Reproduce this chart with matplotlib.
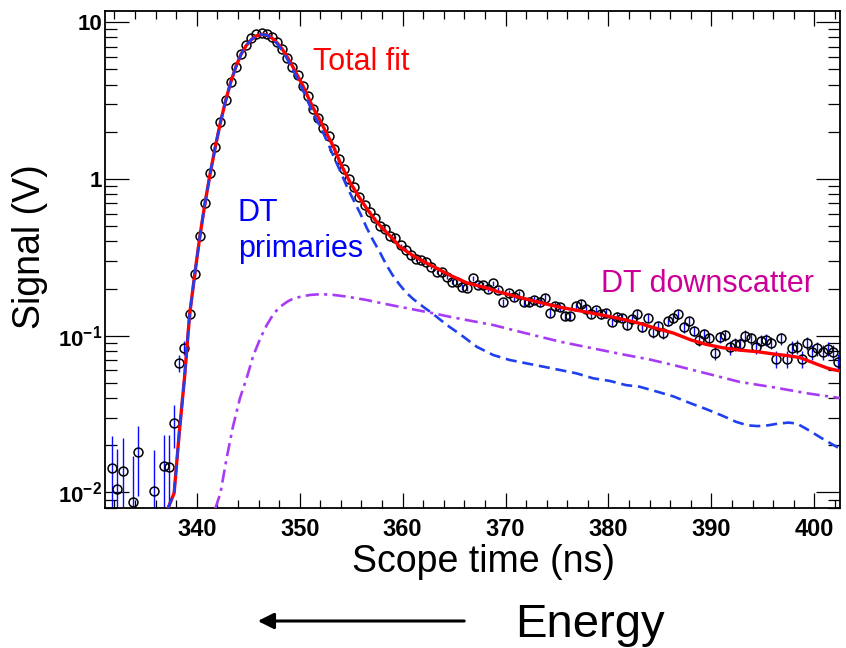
"""Neutron time-of-flight scope trace with the DT primary and downscatter fit components."""

import matplotlib

matplotlib.use("Agg")
import matplotlib.pyplot as plt
import numpy as np
from matplotlib.ticker import FixedLocator, FuncFormatter, LogLocator, MultipleLocator, NullFormatter

# scope samples every 0.5 ns starting at 331.8 ns; nan where the sample was <= 0
SAMPLE_START = 331.8
SAMPLE_STEP = 0.5
signal = [
    0.0143, 0.0105, 0.0138, np.nan, 0.0087, 0.018, np.nan, np.nan, 0.0102, np.nan,
    0.0148, 0.0146, 0.0277, 0.067, 0.084, 0.138, 0.247, 0.433, 0.70, 1.09,
    1.60, 2.30, 3.19, 4.16, 5.21, 6.30, 7.15, 7.95, 8.40, 8.55,
    8.40, 8.00, 7.45, 6.75, 5.90, 5.20, 4.60, 3.92, 3.40, 2.80,
    2.46, 2.11, 1.88, 1.55, 1.345, 1.16, 1.00, 0.885, 0.768, 0.682,
    0.618, 0.561, 0.501, 0.477, 0.433, 0.422, 0.379, 0.352, 0.325, 0.309,
    0.302, 0.297, 0.276, 0.256, 0.256, 0.238, 0.221, 0.219, 0.2055, 0.202,
    0.232, 0.211, 0.211, 0.198, 0.216, 0.196, 0.163, 0.187, 0.176, 0.185,
    0.164, 0.163, 0.170, 0.163, 0.175, 0.140, 0.155, 0.152, 0.134, 0.133,
    0.154, 0.160, 0.149, 0.138, 0.145, 0.137, 0.139, 0.123, 0.1325, 0.130,
    0.117, 0.128, 0.137, 0.114, 0.130, 0.105, 0.115, 0.1036, 0.124, 0.129,
    0.137, 0.113, 0.1235, 0.1076, 0.094, 0.1026, 0.0962, 0.078, 0.0977, 0.101,
    0.0843, 0.0885, 0.0885, 0.0995, 0.0962, 0.0851, 0.0929, 0.094, 0.0902, 0.071,
    0.0962, 0.071, 0.0838, 0.0851, 0.071, 0.0894, 0.0783, 0.083, 0.0783, 0.0825,
    0.079, 0.0683,
]
signal_err = 0.0085

total_time = [
    337.2, 337.8, 338.3, 338.8, 339.3, 339.8, 340.3, 340.8, 341.3, 341.8,
    342.3, 342.8, 343.3, 343.8, 344.3, 344.8, 345.3, 345.8, 346.3, 346.8,
    347.3, 347.8, 348.3, 348.8, 349.3, 349.8, 350.3, 350.8, 351.3, 352.0,
    352.8, 353.3, 354.0, 354.9, 355.7, 356.5, 357.3, 358.1, 359.0, 359.7,
    361.0, 362.0, 363.0, 364.5, 366.2, 368.0, 369.4, 371.0, 372.5, 374.0,
    375.5, 377.0, 378.5, 380.0, 381.7, 383.0, 384.5, 386.3, 388.0, 389.5,
    391.0, 392.7, 394.5, 396.0, 397.5, 398.6, 400.2, 401.3, 402.5,
]
total_fit = [
    0.0079, 0.0099, 0.024, 0.053, 0.135, 0.245, 0.43, 0.70, 1.08, 1.6,
    2.3, 3.15, 4.15, 5.2, 6.25, 7.1, 7.75, 8.2, 8.38, 8.3,
    7.95, 7.4, 6.75, 6.0, 5.25, 4.55, 3.95, 3.35, 2.85, 2.35,
    1.85, 1.6, 1.24, 0.95, 0.78, 0.65, 0.55, 0.48, 0.42, 0.37,
    0.325, 0.298, 0.276, 0.245, 0.218, 0.203, 0.19, 0.178, 0.168, 0.159,
    0.151, 0.145, 0.139, 0.133, 0.126, 0.120, 0.112, 0.104, 0.094, 0.088,
    0.084, 0.081, 0.079, 0.0765, 0.0745, 0.0725, 0.066, 0.062, 0.0595,
]

primary_time = [
    337.2, 337.8, 338.3, 338.8, 339.3, 339.8, 340.3, 340.8, 341.3, 341.8,
    342.3, 342.8, 343.3, 343.8, 344.3, 344.8, 345.3, 345.8, 346.3, 346.8,
    347.3, 347.8, 348.3, 348.8, 349.3, 349.8, 350.3, 350.8, 351.3, 352.0,
    352.7, 353.3, 354.0, 354.6, 355.2, 355.9, 356.5, 357.1, 357.8, 358.4,
    359.0, 359.7, 360.3, 361.0, 362.0, 363.0, 364.3, 365.6, 367.2, 368.8,
    370.4, 372.0, 373.7, 375.3, 376.9, 378.5, 380.1, 381.7, 383.0, 384.7,
    386.3, 388.0, 389.5, 391.0, 392.4, 393.5, 394.5, 395.5, 396.5, 397.5,
    398.3, 399.2, 400.0, 401.0, 402.5,
]
primary_fit = [
    0.0079, 0.0099, 0.024, 0.053, 0.135, 0.245, 0.43, 0.70, 1.08, 1.6,
    2.3, 3.15, 4.15, 5.2, 6.25, 7.1, 7.75, 8.2, 8.38, 8.28,
    7.9, 7.3, 6.6, 5.8, 5.05, 4.35, 3.7, 3.12, 2.62, 2.16,
    1.72, 1.39, 1.1, 0.89, 0.74, 0.6, 0.49, 0.41, 0.34, 0.285,
    0.245, 0.212, 0.19, 0.172, 0.153, 0.137, 0.117, 0.102, 0.085, 0.0753,
    0.070, 0.0667, 0.0634, 0.0604, 0.0575, 0.0535, 0.0515, 0.0484, 0.0473, 0.044,
    0.041, 0.037, 0.034, 0.031, 0.0282, 0.0268, 0.0265, 0.0268, 0.0275, 0.0279,
    0.0275, 0.0255, 0.0237, 0.0216, 0.019,
]

scatter_time = [
    341.8, 342.3, 342.9, 343.5, 344.2, 344.9, 345.5, 346.2, 346.8, 347.5,
    348.1, 348.8, 349.4, 350.2, 351.0, 352.0, 353.0, 354.5, 356.5, 358.0,
    359.7, 361.3, 363.0, 364.6, 366.2, 368.8, 372.0, 375.3, 378.5, 381.7,
    384.0, 386.3, 389.5, 392.7, 396.0, 399.3, 402.5,
]
scatter_fit = [
    0.0079, 0.0099, 0.0165, 0.026, 0.040, 0.055, 0.075, 0.097, 0.117, 0.139,
    0.153, 0.165, 0.173, 0.178, 0.182, 0.184, 0.183, 0.178, 0.169, 0.161,
    0.153, 0.146, 0.139, 0.132, 0.126, 0.117, 0.1036, 0.0916, 0.083, 0.0753,
    0.0705, 0.065, 0.0575, 0.0508, 0.0469, 0.0429, 0.040,
]

Y_TICKS = [0.01, 0.1, 1, 10]
Y_TICK_LABELS = [r"$\mathbf{10^{-2}}$", r"$\mathbf{10^{-1}}$", "1", "10"]


def main() -> None:
    plt.rcParams["font.family"] = ["Liberation Sans", "DejaVu Sans"]
    plt.rcParams["mathtext.fontset"] = "custom"
    plt.rcParams["mathtext.rm"] = "Liberation Sans"
    plt.rcParams["mathtext.bf"] = "Liberation Sans:bold"

    fig = plt.figure(figsize=(8.46, 6.48), dpi=100)
    ax = fig.add_axes([0.1238, 0.2156, 0.8692, 0.7679])

    t = SAMPLE_START + SAMPLE_STEP * np.arange(len(signal))
    y = np.array(signal)

    ax.errorbar(t, y, yerr=signal_err, fmt="none", ecolor="#0a0aff", elinewidth=1.0, zorder=2)
    ax.plot(t, y, linestyle="none", marker="o", markersize=6.4, markerfacecolor="none",
            markeredgecolor="black", markeredgewidth=1.1, zorder=3)

    ax.plot(total_time, total_fit, color="#ff0000", linewidth=2.4, zorder=4)
    ax.plot(primary_time, primary_fit, color="#2040f0", linewidth=1.9, linestyle=(0, (4.2, 2.2)), zorder=5)
    ax.plot(scatter_time, scatter_fit, color="#a83cf5", linewidth=1.9,
            linestyle=(0, (5.0, 2.0, 1.2, 2.0)), zorder=5)

    ax.set_yscale("log")
    ax.set_xlim(331.06, 402.5)
    ax.set_ylim(0.00792, 11.86)

    ax.xaxis.set_major_locator(MultipleLocator(10))
    ax.xaxis.set_minor_locator(MultipleLocator(2))
    ax.yaxis.set_major_locator(FixedLocator(Y_TICKS))
    ax.yaxis.set_major_formatter(FuncFormatter(lambda v, pos: Y_TICK_LABELS[Y_TICKS.index(v)] if v in Y_TICKS else ""))
    ax.yaxis.set_minor_locator(LogLocator(base=10, subs=np.arange(2, 10), numticks=20))
    ax.yaxis.set_minor_formatter(NullFormatter())

    ax.tick_params(which="both", direction="in", top=True, right=True, width=0.9, color="black")
    ax.tick_params(axis="x", which="major", length=10.8, pad=7, labelsize=17)
    ax.tick_params(axis="x", which="minor", length=5.5)
    ax.tick_params(axis="y", which="major", length=17, pad=2, labelsize=16)
    ax.tick_params(axis="y", which="minor", length=8.6)
    for lbl in ax.get_xticklabels() + ax.get_yticklabels():
        lbl.set_fontweight("bold")
    for spine in ax.spines.values():
        spine.set_linewidth(1.3)

    ax.text(351.3, 4.97, "Total fit", color="#ff0000", fontsize=22, va="baseline", ha="left")
    ax.text(344.0, 0.542, "DT", color="#0000ff", fontsize=22, va="baseline", ha="left")
    ax.text(344.0, 0.319, "primaries", color="#0000ff", fontsize=22, va="baseline", ha="left")
    ax.text(379.25, 0.191, "DT downscatter", color="#cc0099", fontsize=22, va="baseline", ha="left")

    fig.text(30.5 / 846, 1 - 247 / 648, "Signal (V)", rotation=90, fontsize=27, ha="center", va="center")
    fig.text(483 / 846, 1 - 572 / 648, "Scope time (ns)", fontsize=27, ha="center", va="baseline")

    # energy increases toward earlier arrival times
    fig.text(515 / 846, 1 - 637 / 648, "Energy", fontsize=34, ha="left", va="baseline")
    ax.annotate("", xy=(255 / 846, 1 - 621 / 648), xytext=(467 / 846, 1 - 621 / 648),
                xycoords="figure fraction", textcoords="figure fraction",
                arrowprops=dict(arrowstyle="-|>", color="black", lw=2.2, mutation_scale=24))

    fig.savefig("out.png", dpi=100)


if __name__ == "__main__":
    main()
